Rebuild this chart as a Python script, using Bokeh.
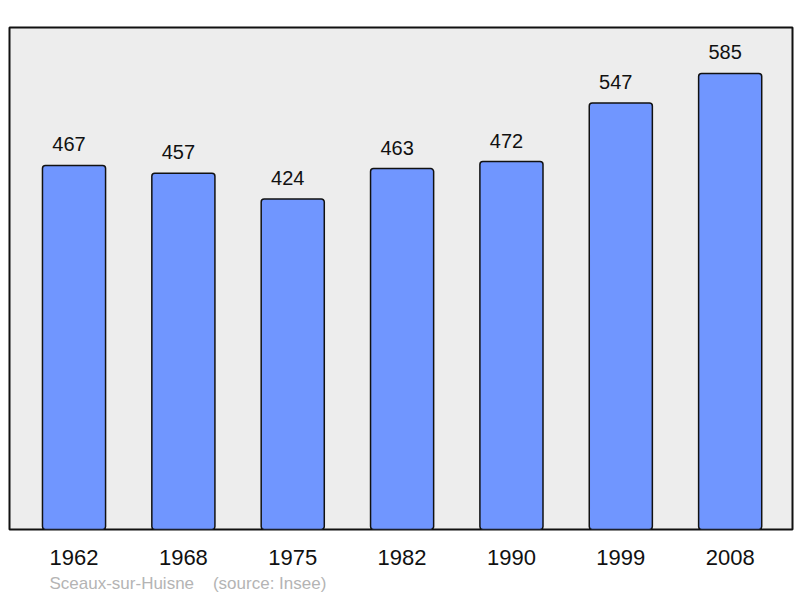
from bokeh.plotting import figure
from bokeh.models import ColumnDataSource, FixedTicker, Range1d, Title
from bokeh.embed import file_html
from bokeh.resources import INLINE
from bokeh.core.properties import value

years = ["1962", "1968", "1975", "1982", "1990", "1999", "2008"]
population = [467, 457, 424, 463, 472, 547, 585]
footer = "Sceaux-sur-Huisne\u00a0\u00a0\u00a0\u00a0(source: Insee)"

idx = list(range(len(years)))
src = ColumnDataSource(dict(x=idx, top=population, lab=[str(v) for v in population]))

p = figure(width=794, height=597, output_backend="svg", toolbar_location=None,
           x_range=Range1d(-0.59, 6.57), y_range=Range1d(0, 644),
           min_border_left=9, min_border_right=2, min_border_top=27, min_border_bottom=10)
p.background_fill_color = "#ededed"
p.border_fill_color = "white"
p.outline_line_color = "#111111"
p.outline_line_width = 2
p.grid.visible = False
p.yaxis.visible = False

p.vbar(x="x", top="top", width=0.577, bottom=0, source=src,
       fill_color="#7096ff", line_color="#111111", line_width=1.5, border_radius=3)
p.text(x="x", y="top", text="lab", source=src, y_offset=-14, x_offset=-5,
       text_align="center", text_baseline="bottom",
       text_font=value("Liberation Sans"), text_font_size="20px", text_color="#111111")

ax = p.xaxis[0]
ax.ticker = FixedTicker(ticks=idx)
ax.major_label_overrides = {i: y for i, y in zip(idx, years)}
ax.major_label_text_font = "Liberation Sans"
ax.major_label_text_font_size = "22px"
ax.major_label_text_color = "#111111"
ax.major_label_standoff = 14
ax.axis_line_color = None
ax.major_tick_line_color = None
ax.minor_tick_line_color = None

t = Title(text=footer, align="left", text_font="Liberation Sans", text_font_size="17px",
          text_color="#b4b4b4", text_font_style="normal", offset=40, standoff=9)
p.add_layout(t, "below")

open("out.html", "w").write(file_html(p, INLINE))
